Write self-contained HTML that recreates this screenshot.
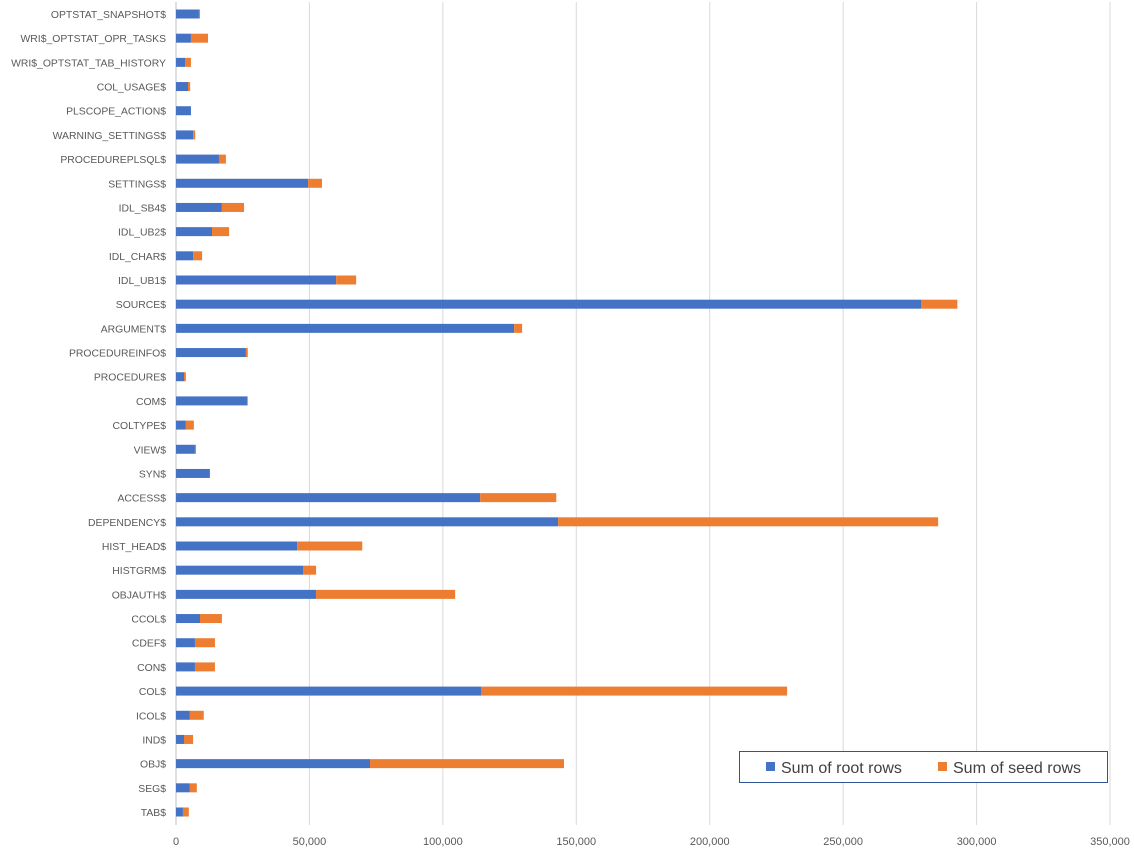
<!DOCTYPE html>
<html><head><meta charset="utf-8"><style>
body{margin:0;background:#fff;font-family:"Liberation Sans",sans-serif;}
svg text{font-family:"Liberation Sans",sans-serif;fill:#595959;}
</style></head><body>
<svg id="chart" width="1134" height="852" xmlns="http://www.w3.org/2000/svg">
<g id="grid"></g>
<g id="bars"></g>
<g id="ylabels"></g>
<g id="xlabels"></g>
<g>
<rect x="739.5" y="751.5" width="368" height="31" fill="#fff" stroke="#2f5597" stroke-width="1"/>
<rect x="766" y="762" width="9" height="9" fill="#4472c4"/>
<text x="781" y="773" font-size="16" style="fill:#404040">Sum of root rows</text>
<rect x="938" y="762" width="9" height="9" fill="#ed7d31"/>
<text x="953" y="773" font-size="16" style="fill:#404040">Sum of seed rows</text>
</g>
</svg>
<script>
const categories=["OPTSTAT_SNAPSHOT$","WRI$_OPTSTAT_OPR_TASKS","WRI$_OPTSTAT_TAB_HISTORY","COL_USAGE$","PLSCOPE_ACTION$","WARNING_SETTINGS$","PROCEDUREPLSQL$","SETTINGS$","IDL_SB4$","IDL_UB2$","IDL_CHAR$","IDL_UB1$","SOURCE$","ARGUMENT$","PROCEDUREINFO$","PROCEDURE$","COM$","COLTYPE$","VIEW$","SYN$","ACCESS$","DEPENDENCY$","HIST_HEAD$","HISTGRM$","OBJAUTH$","CCOL$","CDEF$","CON$","COL$","ICOL$","IND$","OBJ$","SEG$","TAB$"];
const rootRows=[8600,5600,3400,4500,5600,6400,16100,49500,17200,13500,6400,60000,279300,126700,26200,3000,26600,3700,7100,12700,114000,143200,45400,47600,52500,9000,7100,7100,114300,5200,3000,72700,5200,2600];
const seedRows=[400,6400,2200,800,0,800,2600,5200,8300,6400,3400,7500,13500,3000,700,700,300,3000,400,0,28500,142400,24400,4900,52100,8200,7500,7500,114700,5200,3400,72700,2600,2200];
const xTicks=[0,50000,100000,150000,200000,250000,300000,350000];
const NS="http://www.w3.org/2000/svg";
const x0=176,x1=1110,xMax=350000;
const xs=v=>x0+v/xMax*(x1-x0);
const yTop=14,yBot=812;
const ys=i=>yTop+i*(yBot-yTop)/(categories.length-1);
function mk(tag,attrs,parent){const e=document.createElementNS(NS,tag);for(const k in attrs)e.setAttribute(k,attrs[k]);parent.appendChild(e);return e;}
const grid=document.getElementById('grid'),bars=document.getElementById('bars'),yl=document.getElementById('ylabels'),xl=document.getElementById('xlabels');
xTicks.forEach(t=>{
 const l=mk('line',{x1:xs(t),x2:xs(t),y1:2,y2:825,stroke:t===0?'#bfbfbf':'#d9d9d9','stroke-width':1},grid);
 
 
 const tx=mk('text',{x:xs(t),y:845,'font-size':11,'text-anchor':'middle'},xl);
 tx.textContent=t.toLocaleString('en-US');
 
 
});
categories.forEach((c,i)=>{
 const y=ys(i);
 const a=mk('rect',{x:xs(0),y:y-4.5,width:xs(rootRows[i])-xs(0),height:9,fill:'#4472c4'},bars);
 
 
 const b=mk('rect',{x:xs(rootRows[i]),y:y-4.5,width:xs(seedRows[i])-xs(0),height:9,fill:'#ed7d31'},bars);
 
 
 const t=mk('text',{x:166,y:y+4,'font-size':10.4,'text-anchor':'end'},yl);
 t.textContent=c;
 
 
});
</script>
</body></html>
